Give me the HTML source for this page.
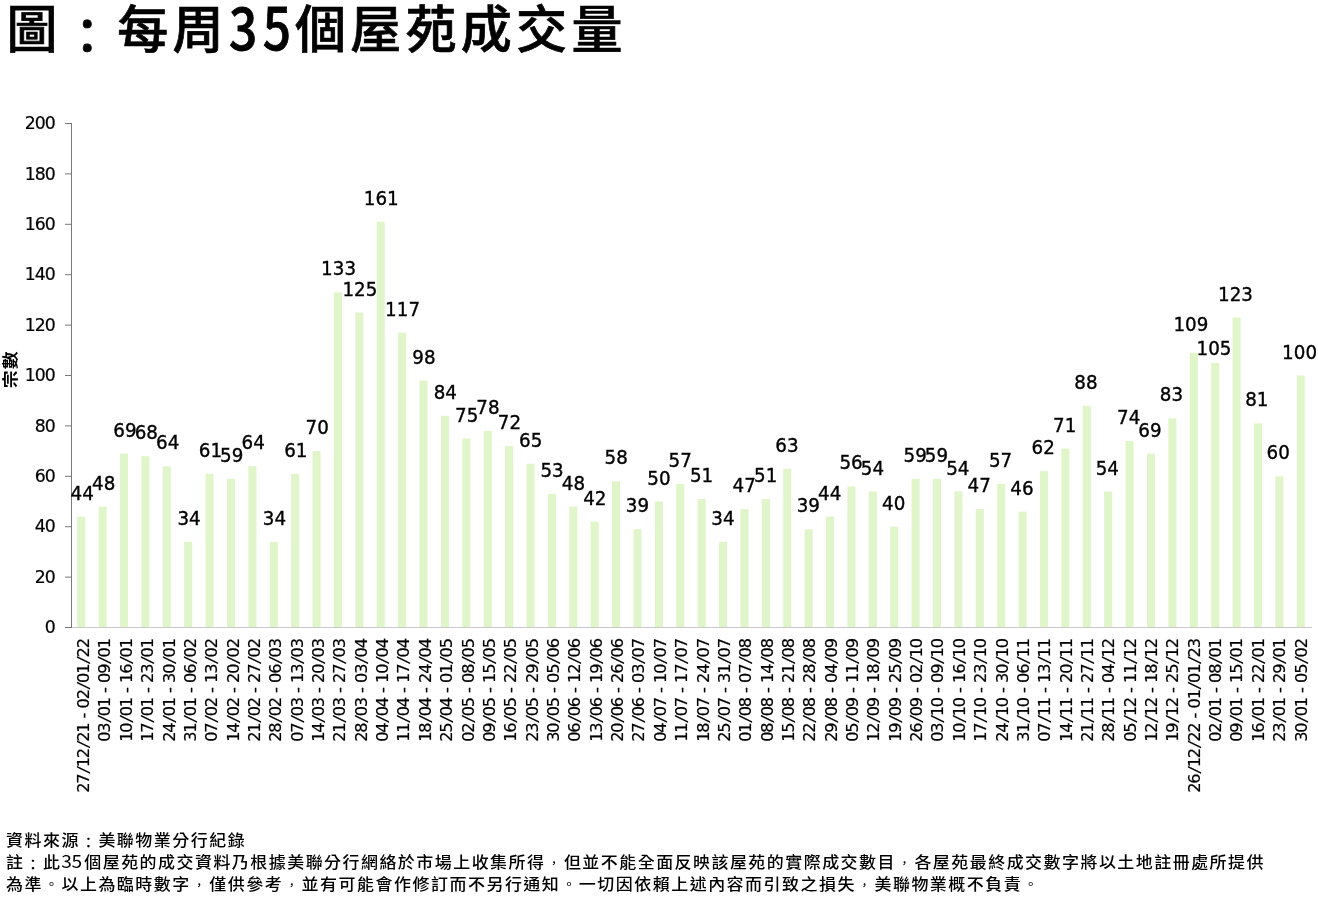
<!DOCTYPE html>
<html lang="zh-Hant">
<head>
<meta charset="utf-8">
<title>圖：每周35個屋苑成交量</title>
<style>
html,body{margin:0;padding:0;background:#fff;}
body{width:1318px;height:897px;overflow:hidden;position:relative;font-family:"Liberation Sans","Noto Sans CJK TC",sans-serif;}
svg{position:absolute;left:0;top:0;display:block;}
text{fill:#000;white-space:pre;}
.title{font-family:"Liberation Sans","Noto Sans CJK TC",sans-serif;font-weight:500;font-size:51px;letter-spacing:4.3px;stroke:#000;stroke-width:0.7px;}
.title .n{font-family:"Noto Sans CJK TC","Liberation Sans",sans-serif;font-size:57.7px;letter-spacing:6.34px;font-weight:500;stroke:#000;stroke-width:0.8px;}
.foot{font-family:"Liberation Sans","Noto Sans CJK TC",sans-serif;font-weight:500;font-size:16.5px;letter-spacing:1.43px;}
.foot .n{font-family:"Noto Sans CJK TC","Liberation Sans",sans-serif;font-size:18.6px;letter-spacing:-0.5px;font-weight:400;}
.foot .pc{font-size:11px;letter-spacing:4.18px;baseline-shift:1.2px;}
.foot .pp{font-size:13px;letter-spacing:3.18px;baseline-shift:1.3px;}
.foot .pk{font-size:15px;letter-spacing:2.18px;baseline-shift:-1.6px;}
.title .k{font-size:49px;letter-spacing:5.3px;baseline-shift:-5.5px;}
.ytitle{font-family:"Liberation Sans","Noto Sans CJK TC",sans-serif;font-size:16.3px;font-weight:700;letter-spacing:1px;text-anchor:middle;}
.yt{font-family:"DejaVu Sans","Liberation Sans",sans-serif;font-size:17.3px;font-weight:400;letter-spacing:-1px;text-anchor:end;}
.xl{font-family:"DejaVu Sans","Liberation Sans",sans-serif;font-size:16.2px;font-weight:400;}
.xl .s{font-family:"DejaVu Sans Mono","Liberation Mono",monospace;font-size:16px;}
.dl{font-family:"DejaVu Sans","Liberation Sans",sans-serif;font-size:18.3px;font-weight:400;letter-spacing:0.05px;text-anchor:middle;}
.yt,.xl{stroke:#000;stroke-width:0.2px;}
.dl{stroke:#000;stroke-width:0.35px;}
.bar{fill:#e0f6ca;}
</style>
</head>
<body>
<svg width="1318" height="897" viewBox="0 0 1318 897">
<rect x="0" y="0" width="1318" height="897" fill="#ffffff"/>
<text class="title" x="6.55" y="47.5">圖<tspan class="k" dx="1">：</tspan>每周<tspan class="n" dx="1.2" dy="2.1" textLength="67.4" lengthAdjust="spacingAndGlyphs">35</tspan><tspan dx="-1.5" dy="-2.1">個屋苑成交量</tspan></text>
<g class="bars">
<rect class="bar" x="77.14" y="516.62" width="8.1" height="110.38"/>
<rect class="bar" x="98.54" y="506.54" width="8.1" height="120.46"/>
<rect class="bar" x="119.93" y="453.62" width="8.1" height="173.38"/>
<rect class="bar" x="141.33" y="456.14" width="8.1" height="170.86"/>
<rect class="bar" x="162.72" y="466.22" width="8.1" height="160.78"/>
<rect class="bar" x="184.12" y="541.82" width="8.1" height="85.18"/>
<rect class="bar" x="205.52" y="473.78" width="8.1" height="153.22"/>
<rect class="bar" x="226.91" y="478.82" width="8.1" height="148.18"/>
<rect class="bar" x="248.31" y="466.22" width="8.1" height="160.78"/>
<rect class="bar" x="269.7" y="541.82" width="8.1" height="85.18"/>
<rect class="bar" x="291.1" y="473.78" width="8.1" height="153.22"/>
<rect class="bar" x="312.5" y="451.1" width="8.1" height="175.9"/>
<rect class="bar" x="333.89" y="292.34" width="8.1" height="334.66"/>
<rect class="bar" x="355.29" y="312.5" width="8.1" height="314.5"/>
<rect class="bar" x="376.68" y="221.78" width="8.1" height="405.22"/>
<rect class="bar" x="398.08" y="332.66" width="8.1" height="294.34"/>
<rect class="bar" x="419.48" y="380.54" width="8.1" height="246.46"/>
<rect class="bar" x="440.87" y="415.82" width="8.1" height="211.18"/>
<rect class="bar" x="462.27" y="438.5" width="8.1" height="188.5"/>
<rect class="bar" x="483.66" y="430.94" width="8.1" height="196.06"/>
<rect class="bar" x="505.06" y="446.06" width="8.1" height="180.94"/>
<rect class="bar" x="526.46" y="463.7" width="8.1" height="163.3"/>
<rect class="bar" x="547.85" y="493.94" width="8.1" height="133.06"/>
<rect class="bar" x="569.25" y="506.54" width="8.1" height="120.46"/>
<rect class="bar" x="590.64" y="521.66" width="8.1" height="105.34"/>
<rect class="bar" x="612.04" y="481.34" width="8.1" height="145.66"/>
<rect class="bar" x="633.44" y="529.22" width="8.1" height="97.78"/>
<rect class="bar" x="654.83" y="501.5" width="8.1" height="125.5"/>
<rect class="bar" x="676.23" y="483.86" width="8.1" height="143.14"/>
<rect class="bar" x="697.62" y="498.98" width="8.1" height="128.02"/>
<rect class="bar" x="719.02" y="541.82" width="8.1" height="85.18"/>
<rect class="bar" x="740.42" y="509.06" width="8.1" height="117.94"/>
<rect class="bar" x="761.81" y="498.98" width="8.1" height="128.02"/>
<rect class="bar" x="783.21" y="468.74" width="8.1" height="158.26"/>
<rect class="bar" x="804.6" y="529.22" width="8.1" height="97.78"/>
<rect class="bar" x="826" y="516.62" width="8.1" height="110.38"/>
<rect class="bar" x="847.4" y="486.38" width="8.1" height="140.62"/>
<rect class="bar" x="868.79" y="491.42" width="8.1" height="135.58"/>
<rect class="bar" x="890.19" y="526.7" width="8.1" height="100.3"/>
<rect class="bar" x="911.58" y="478.82" width="8.1" height="148.18"/>
<rect class="bar" x="932.98" y="478.82" width="8.1" height="148.18"/>
<rect class="bar" x="954.38" y="491.42" width="8.1" height="135.58"/>
<rect class="bar" x="975.77" y="509.06" width="8.1" height="117.94"/>
<rect class="bar" x="997.17" y="483.86" width="8.1" height="143.14"/>
<rect class="bar" x="1018.56" y="511.58" width="8.1" height="115.42"/>
<rect class="bar" x="1039.96" y="471.26" width="8.1" height="155.74"/>
<rect class="bar" x="1061.36" y="448.58" width="8.1" height="178.42"/>
<rect class="bar" x="1082.75" y="405.74" width="8.1" height="221.26"/>
<rect class="bar" x="1104.15" y="491.42" width="8.1" height="135.58"/>
<rect class="bar" x="1125.54" y="441.02" width="8.1" height="185.98"/>
<rect class="bar" x="1146.94" y="453.62" width="8.1" height="173.38"/>
<rect class="bar" x="1168.34" y="418.34" width="8.1" height="208.66"/>
<rect class="bar" x="1189.73" y="352.82" width="8.1" height="274.18"/>
<rect class="bar" x="1211.13" y="362.9" width="8.1" height="264.1"/>
<rect class="bar" x="1232.52" y="317.54" width="8.1" height="309.46"/>
<rect class="bar" x="1253.92" y="423.38" width="8.1" height="203.62"/>
<rect class="bar" x="1275.32" y="476.3" width="8.1" height="150.7"/>
<rect class="bar" x="1296.71" y="375.5" width="8.1" height="251.5"/>
</g>
<g class="axes">
<rect x="71" y="627" width="1241" height="1" fill="#c9c9c9"/>
<rect x="71" y="123" width="1" height="505" fill="#7a7a7a"/>
<rect x="65" y="627" width="6" height="1" fill="#7a7a7a"/>
<rect x="65" y="576.6" width="6" height="1" fill="#7a7a7a"/>
<rect x="65" y="526.2" width="6" height="1" fill="#7a7a7a"/>
<rect x="65" y="475.8" width="6" height="1" fill="#7a7a7a"/>
<rect x="65" y="425.4" width="6" height="1" fill="#7a7a7a"/>
<rect x="65" y="375" width="6" height="1" fill="#7a7a7a"/>
<rect x="65" y="324.6" width="6" height="1" fill="#7a7a7a"/>
<rect x="65" y="274.2" width="6" height="1" fill="#7a7a7a"/>
<rect x="65" y="223.8" width="6" height="1" fill="#7a7a7a"/>
<rect x="65" y="173.4" width="6" height="1" fill="#7a7a7a"/>
<rect x="65" y="123" width="6" height="1" fill="#7a7a7a"/>
</g>
<g class="yticks">
<text class="yt" x="54.8" y="129.1">200</text>
<text class="yt" x="54.8" y="179.5">180</text>
<text class="yt" x="54.8" y="229.9">160</text>
<text class="yt" x="54.8" y="280.3">140</text>
<text class="yt" x="54.8" y="330.7">120</text>
<text class="yt" x="54.8" y="381.1">100</text>
<text class="yt" x="54.8" y="431.5">80</text>
<text class="yt" x="54.8" y="481.9">60</text>
<text class="yt" x="54.8" y="532.3">40</text>
<text class="yt" x="54.8" y="582.7">20</text>
<text class="yt" x="54.8" y="633.1">0</text>
</g>
<g class="datalabels">
<text class="dl" transform="translate(82.3 499.72) scale(1 1.1)">44</text>
<text class="dl" transform="translate(103.66 489.64) scale(1 1.1)">48</text>
<text class="dl" transform="translate(125.01 436.72) scale(1 1.1)">69</text>
<text class="dl" transform="translate(146.37 439.24) scale(1 1.1)">68</text>
<text class="dl" transform="translate(167.72 449.32) scale(1 1.1)">64</text>
<text class="dl" transform="translate(189.07 524.92) scale(1 1.1)">34</text>
<text class="dl" transform="translate(210.43 456.88) scale(1 1.1)">61</text>
<text class="dl" transform="translate(231.79 461.92) scale(1 1.1)">59</text>
<text class="dl" transform="translate(253.14 449.32) scale(1 1.1)">64</text>
<text class="dl" transform="translate(274.5 524.92) scale(1 1.1)">34</text>
<text class="dl" transform="translate(295.85 456.88) scale(1 1.1)">61</text>
<text class="dl" transform="translate(317.2 434.2) scale(1 1.1)">70</text>
<text class="dl" transform="translate(338.56 275.44) scale(1 1.1)">133</text>
<text class="dl" transform="translate(359.92 295.6) scale(1 1.1)">125</text>
<text class="dl" transform="translate(381.27 204.88) scale(1 1.1)">161</text>
<text class="dl" transform="translate(402.62 315.76) scale(1 1.1)">117</text>
<text class="dl" transform="translate(423.98 363.64) scale(1 1.1)">98</text>
<text class="dl" transform="translate(445.34 398.92) scale(1 1.1)">84</text>
<text class="dl" transform="translate(466.69 421.6) scale(1 1.1)">75</text>
<text class="dl" transform="translate(488.05 414.04) scale(1 1.1)">78</text>
<text class="dl" transform="translate(509.4 429.16) scale(1 1.1)">72</text>
<text class="dl" transform="translate(530.75 446.8) scale(1 1.1)">65</text>
<text class="dl" transform="translate(552.11 477.04) scale(1 1.1)">53</text>
<text class="dl" transform="translate(573.47 489.64) scale(1 1.1)">48</text>
<text class="dl" transform="translate(594.82 504.76) scale(1 1.1)">42</text>
<text class="dl" transform="translate(616.17 464.44) scale(1 1.1)">58</text>
<text class="dl" transform="translate(637.53 512.32) scale(1 1.1)">39</text>
<text class="dl" transform="translate(658.88 484.6) scale(1 1.1)">50</text>
<text class="dl" transform="translate(680.24 466.96) scale(1 1.1)">57</text>
<text class="dl" transform="translate(701.59 482.08) scale(1 1.1)">51</text>
<text class="dl" transform="translate(722.95 524.92) scale(1 1.1)">34</text>
<text class="dl" transform="translate(744.3 492.16) scale(1 1.1)">47</text>
<text class="dl" transform="translate(765.66 482.08) scale(1 1.1)">51</text>
<text class="dl" transform="translate(787.01 451.84) scale(1 1.1)">63</text>
<text class="dl" transform="translate(808.37 512.32) scale(1 1.1)">39</text>
<text class="dl" transform="translate(829.73 499.72) scale(1 1.1)">44</text>
<text class="dl" transform="translate(851.08 469.48) scale(1 1.1)">56</text>
<text class="dl" transform="translate(872.43 474.52) scale(1 1.1)">54</text>
<text class="dl" transform="translate(893.79 509.8) scale(1 1.1)">40</text>
<text class="dl" transform="translate(915.14 461.92) scale(1 1.1)">59</text>
<text class="dl" transform="translate(936.5 461.92) scale(1 1.1)">59</text>
<text class="dl" transform="translate(957.86 474.52) scale(1 1.1)">54</text>
<text class="dl" transform="translate(979.21 492.16) scale(1 1.1)">47</text>
<text class="dl" transform="translate(1000.56 466.96) scale(1 1.1)">57</text>
<text class="dl" transform="translate(1021.92 494.68) scale(1 1.1)">46</text>
<text class="dl" transform="translate(1043.28 454.36) scale(1 1.1)">62</text>
<text class="dl" transform="translate(1064.63 431.68) scale(1 1.1)">71</text>
<text class="dl" transform="translate(1085.99 388.84) scale(1 1.1)">88</text>
<text class="dl" transform="translate(1107.34 474.52) scale(1 1.1)">54</text>
<text class="dl" transform="translate(1128.69 424.12) scale(1 1.1)">74</text>
<text class="dl" transform="translate(1150.05 436.72) scale(1 1.1)">69</text>
<text class="dl" transform="translate(1171.4 401.44) scale(1 1.1)">83</text>
<text class="dl" transform="translate(1190.96 330.92) scale(1 1.1)">109</text>
<text class="dl" transform="translate(1214.02 354.5) scale(1 1.1)">105</text>
<text class="dl" transform="translate(1235.47 300.64) scale(1 1.1)">123</text>
<text class="dl" transform="translate(1256.83 406.48) scale(1 1.1)">81</text>
<text class="dl" transform="translate(1278.18 459.4) scale(1 1.1)">60</text>
<text class="dl" transform="translate(1299.54 358.6) scale(1 1.1)">100</text>
</g>
<g class="xlabels">
<text class="xl" transform="translate(89.1 792.8) rotate(-90)" x="0 9.1 18.2 25.5 34.6 43.7 51 60.1 69.2 74.2 79.4 84.4 93.5 102.6 109.9 119 128.1 135.4 144.5">27<tspan class="s">/</tspan>12<tspan class="s">/</tspan>21 - 02<tspan class="s">/</tspan>01<tspan class="s">/</tspan>22</text>
<text class="xl" transform="translate(110.46 741.8) rotate(-90)" x="0 9.1 18.2 25.5 34.6 43.7 48.7 53.9 58.9 68 77.1 84.4 93.5">03<tspan class="s">/</tspan>01 - 09<tspan class="s">/</tspan>01</text>
<text class="xl" transform="translate(131.82 741.8) rotate(-90)" x="0 9.1 18.2 25.5 34.6 43.7 48.7 53.9 58.9 68 77.1 84.4 93.5">10<tspan class="s">/</tspan>01 - 16<tspan class="s">/</tspan>01</text>
<text class="xl" transform="translate(153.18 741.8) rotate(-90)" x="0 9.1 18.2 25.5 34.6 43.7 48.7 53.9 58.9 68 77.1 84.4 93.5">17<tspan class="s">/</tspan>01 - 23<tspan class="s">/</tspan>01</text>
<text class="xl" transform="translate(174.53 741.8) rotate(-90)" x="0 9.1 18.2 25.5 34.6 43.7 48.7 53.9 58.9 68 77.1 84.4 93.5">24<tspan class="s">/</tspan>01 - 30<tspan class="s">/</tspan>01</text>
<text class="xl" transform="translate(195.89 741.8) rotate(-90)" x="0 9.1 18.2 25.5 34.6 43.7 48.7 53.9 58.9 68 77.1 84.4 93.5">31<tspan class="s">/</tspan>01 - 06<tspan class="s">/</tspan>02</text>
<text class="xl" transform="translate(217.25 741.8) rotate(-90)" x="0 9.1 18.2 25.5 34.6 43.7 48.7 53.9 58.9 68 77.1 84.4 93.5">07<tspan class="s">/</tspan>02 - 13<tspan class="s">/</tspan>02</text>
<text class="xl" transform="translate(238.61 741.8) rotate(-90)" x="0 9.1 18.2 25.5 34.6 43.7 48.7 53.9 58.9 68 77.1 84.4 93.5">14<tspan class="s">/</tspan>02 - 20<tspan class="s">/</tspan>02</text>
<text class="xl" transform="translate(259.97 741.8) rotate(-90)" x="0 9.1 18.2 25.5 34.6 43.7 48.7 53.9 58.9 68 77.1 84.4 93.5">21<tspan class="s">/</tspan>02 - 27<tspan class="s">/</tspan>02</text>
<text class="xl" transform="translate(281.33 741.8) rotate(-90)" x="0 9.1 18.2 25.5 34.6 43.7 48.7 53.9 58.9 68 77.1 84.4 93.5">28<tspan class="s">/</tspan>02 - 06<tspan class="s">/</tspan>03</text>
<text class="xl" transform="translate(302.69 741.8) rotate(-90)" x="0 9.1 18.2 25.5 34.6 43.7 48.7 53.9 58.9 68 77.1 84.4 93.5">07<tspan class="s">/</tspan>03 - 13<tspan class="s">/</tspan>03</text>
<text class="xl" transform="translate(324.04 741.8) rotate(-90)" x="0 9.1 18.2 25.5 34.6 43.7 48.7 53.9 58.9 68 77.1 84.4 93.5">14<tspan class="s">/</tspan>03 - 20<tspan class="s">/</tspan>03</text>
<text class="xl" transform="translate(345.4 741.8) rotate(-90)" x="0 9.1 18.2 25.5 34.6 43.7 48.7 53.9 58.9 68 77.1 84.4 93.5">21<tspan class="s">/</tspan>03 - 27<tspan class="s">/</tspan>03</text>
<text class="xl" transform="translate(366.76 741.8) rotate(-90)" x="0 9.1 18.2 25.5 34.6 43.7 48.7 53.9 58.9 68 77.1 84.4 93.5">28<tspan class="s">/</tspan>03 - 03<tspan class="s">/</tspan>04</text>
<text class="xl" transform="translate(388.12 741.8) rotate(-90)" x="0 9.1 18.2 25.5 34.6 43.7 48.7 53.9 58.9 68 77.1 84.4 93.5">04<tspan class="s">/</tspan>04 - 10<tspan class="s">/</tspan>04</text>
<text class="xl" transform="translate(409.48 741.8) rotate(-90)" x="0 9.1 18.2 25.5 34.6 43.7 48.7 53.9 58.9 68 77.1 84.4 93.5">11<tspan class="s">/</tspan>04 - 17<tspan class="s">/</tspan>04</text>
<text class="xl" transform="translate(430.84 741.8) rotate(-90)" x="0 9.1 18.2 25.5 34.6 43.7 48.7 53.9 58.9 68 77.1 84.4 93.5">18<tspan class="s">/</tspan>04 - 24<tspan class="s">/</tspan>04</text>
<text class="xl" transform="translate(452.19 741.8) rotate(-90)" x="0 9.1 18.2 25.5 34.6 43.7 48.7 53.9 58.9 68 77.1 84.4 93.5">25<tspan class="s">/</tspan>04 - 01<tspan class="s">/</tspan>05</text>
<text class="xl" transform="translate(473.55 741.8) rotate(-90)" x="0 9.1 18.2 25.5 34.6 43.7 48.7 53.9 58.9 68 77.1 84.4 93.5">02<tspan class="s">/</tspan>05 - 08<tspan class="s">/</tspan>05</text>
<text class="xl" transform="translate(494.91 741.8) rotate(-90)" x="0 9.1 18.2 25.5 34.6 43.7 48.7 53.9 58.9 68 77.1 84.4 93.5">09<tspan class="s">/</tspan>05 - 15<tspan class="s">/</tspan>05</text>
<text class="xl" transform="translate(516.27 741.8) rotate(-90)" x="0 9.1 18.2 25.5 34.6 43.7 48.7 53.9 58.9 68 77.1 84.4 93.5">16<tspan class="s">/</tspan>05 - 22<tspan class="s">/</tspan>05</text>
<text class="xl" transform="translate(537.63 741.8) rotate(-90)" x="0 9.1 18.2 25.5 34.6 43.7 48.7 53.9 58.9 68 77.1 84.4 93.5">23<tspan class="s">/</tspan>05 - 29<tspan class="s">/</tspan>05</text>
<text class="xl" transform="translate(558.99 741.8) rotate(-90)" x="0 9.1 18.2 25.5 34.6 43.7 48.7 53.9 58.9 68 77.1 84.4 93.5">30<tspan class="s">/</tspan>05 - 05<tspan class="s">/</tspan>06</text>
<text class="xl" transform="translate(580.35 741.8) rotate(-90)" x="0 9.1 18.2 25.5 34.6 43.7 48.7 53.9 58.9 68 77.1 84.4 93.5">06<tspan class="s">/</tspan>06 - 12<tspan class="s">/</tspan>06</text>
<text class="xl" transform="translate(601.7 741.8) rotate(-90)" x="0 9.1 18.2 25.5 34.6 43.7 48.7 53.9 58.9 68 77.1 84.4 93.5">13<tspan class="s">/</tspan>06 - 19<tspan class="s">/</tspan>06</text>
<text class="xl" transform="translate(623.06 741.8) rotate(-90)" x="0 9.1 18.2 25.5 34.6 43.7 48.7 53.9 58.9 68 77.1 84.4 93.5">20<tspan class="s">/</tspan>06 - 26<tspan class="s">/</tspan>06</text>
<text class="xl" transform="translate(644.42 741.8) rotate(-90)" x="0 9.1 18.2 25.5 34.6 43.7 48.7 53.9 58.9 68 77.1 84.4 93.5">27<tspan class="s">/</tspan>06 - 03<tspan class="s">/</tspan>07</text>
<text class="xl" transform="translate(665.78 741.8) rotate(-90)" x="0 9.1 18.2 25.5 34.6 43.7 48.7 53.9 58.9 68 77.1 84.4 93.5">04<tspan class="s">/</tspan>07 - 10<tspan class="s">/</tspan>07</text>
<text class="xl" transform="translate(687.14 741.8) rotate(-90)" x="0 9.1 18.2 25.5 34.6 43.7 48.7 53.9 58.9 68 77.1 84.4 93.5">11<tspan class="s">/</tspan>07 - 17<tspan class="s">/</tspan>07</text>
<text class="xl" transform="translate(708.5 741.8) rotate(-90)" x="0 9.1 18.2 25.5 34.6 43.7 48.7 53.9 58.9 68 77.1 84.4 93.5">18<tspan class="s">/</tspan>07 - 24<tspan class="s">/</tspan>07</text>
<text class="xl" transform="translate(729.86 741.8) rotate(-90)" x="0 9.1 18.2 25.5 34.6 43.7 48.7 53.9 58.9 68 77.1 84.4 93.5">25<tspan class="s">/</tspan>07 - 31<tspan class="s">/</tspan>07</text>
<text class="xl" transform="translate(751.21 741.8) rotate(-90)" x="0 9.1 18.2 25.5 34.6 43.7 48.7 53.9 58.9 68 77.1 84.4 93.5">01<tspan class="s">/</tspan>08 - 07<tspan class="s">/</tspan>08</text>
<text class="xl" transform="translate(772.57 741.8) rotate(-90)" x="0 9.1 18.2 25.5 34.6 43.7 48.7 53.9 58.9 68 77.1 84.4 93.5">08<tspan class="s">/</tspan>08 - 14<tspan class="s">/</tspan>08</text>
<text class="xl" transform="translate(793.93 741.8) rotate(-90)" x="0 9.1 18.2 25.5 34.6 43.7 48.7 53.9 58.9 68 77.1 84.4 93.5">15<tspan class="s">/</tspan>08 - 21<tspan class="s">/</tspan>08</text>
<text class="xl" transform="translate(815.29 741.8) rotate(-90)" x="0 9.1 18.2 25.5 34.6 43.7 48.7 53.9 58.9 68 77.1 84.4 93.5">22<tspan class="s">/</tspan>08 - 28<tspan class="s">/</tspan>08</text>
<text class="xl" transform="translate(836.65 741.8) rotate(-90)" x="0 9.1 18.2 25.5 34.6 43.7 48.7 53.9 58.9 68 77.1 84.4 93.5">29<tspan class="s">/</tspan>08 - 04<tspan class="s">/</tspan>09</text>
<text class="xl" transform="translate(858.01 741.8) rotate(-90)" x="0 9.1 18.2 25.5 34.6 43.7 48.7 53.9 58.9 68 77.1 84.4 93.5">05<tspan class="s">/</tspan>09 - 11<tspan class="s">/</tspan>09</text>
<text class="xl" transform="translate(879.36 741.8) rotate(-90)" x="0 9.1 18.2 25.5 34.6 43.7 48.7 53.9 58.9 68 77.1 84.4 93.5">12<tspan class="s">/</tspan>09 - 18<tspan class="s">/</tspan>09</text>
<text class="xl" transform="translate(900.72 741.8) rotate(-90)" x="0 9.1 18.2 25.5 34.6 43.7 48.7 53.9 58.9 68 77.1 84.4 93.5">19<tspan class="s">/</tspan>09 - 25<tspan class="s">/</tspan>09</text>
<text class="xl" transform="translate(922.08 741.8) rotate(-90)" x="0 9.1 18.2 25.5 34.6 43.7 48.7 53.9 58.9 68 77.1 84.4 93.5">26<tspan class="s">/</tspan>09 - 02<tspan class="s">/</tspan>10</text>
<text class="xl" transform="translate(943.44 741.8) rotate(-90)" x="0 9.1 18.2 25.5 34.6 43.7 48.7 53.9 58.9 68 77.1 84.4 93.5">03<tspan class="s">/</tspan>10 - 09<tspan class="s">/</tspan>10</text>
<text class="xl" transform="translate(964.8 741.8) rotate(-90)" x="0 9.1 18.2 25.5 34.6 43.7 48.7 53.9 58.9 68 77.1 84.4 93.5">10<tspan class="s">/</tspan>10 - 16<tspan class="s">/</tspan>10</text>
<text class="xl" transform="translate(986.16 741.8) rotate(-90)" x="0 9.1 18.2 25.5 34.6 43.7 48.7 53.9 58.9 68 77.1 84.4 93.5">17<tspan class="s">/</tspan>10 - 23<tspan class="s">/</tspan>10</text>
<text class="xl" transform="translate(1007.52 741.8) rotate(-90)" x="0 9.1 18.2 25.5 34.6 43.7 48.7 53.9 58.9 68 77.1 84.4 93.5">24<tspan class="s">/</tspan>10 - 30<tspan class="s">/</tspan>10</text>
<text class="xl" transform="translate(1028.87 741.8) rotate(-90)" x="0 9.1 18.2 25.5 34.6 43.7 48.7 53.9 58.9 68 77.1 84.4 93.5">31<tspan class="s">/</tspan>10 - 06<tspan class="s">/</tspan>11</text>
<text class="xl" transform="translate(1050.23 741.8) rotate(-90)" x="0 9.1 18.2 25.5 34.6 43.7 48.7 53.9 58.9 68 77.1 84.4 93.5">07<tspan class="s">/</tspan>11 - 13<tspan class="s">/</tspan>11</text>
<text class="xl" transform="translate(1071.59 741.8) rotate(-90)" x="0 9.1 18.2 25.5 34.6 43.7 48.7 53.9 58.9 68 77.1 84.4 93.5">14<tspan class="s">/</tspan>11 - 20<tspan class="s">/</tspan>11</text>
<text class="xl" transform="translate(1092.95 741.8) rotate(-90)" x="0 9.1 18.2 25.5 34.6 43.7 48.7 53.9 58.9 68 77.1 84.4 93.5">21<tspan class="s">/</tspan>11 - 27<tspan class="s">/</tspan>11</text>
<text class="xl" transform="translate(1114.31 741.8) rotate(-90)" x="0 9.1 18.2 25.5 34.6 43.7 48.7 53.9 58.9 68 77.1 84.4 93.5">28<tspan class="s">/</tspan>11 - 04<tspan class="s">/</tspan>12</text>
<text class="xl" transform="translate(1135.67 741.8) rotate(-90)" x="0 9.1 18.2 25.5 34.6 43.7 48.7 53.9 58.9 68 77.1 84.4 93.5">05<tspan class="s">/</tspan>12 - 11<tspan class="s">/</tspan>12</text>
<text class="xl" transform="translate(1157.02 741.8) rotate(-90)" x="0 9.1 18.2 25.5 34.6 43.7 48.7 53.9 58.9 68 77.1 84.4 93.5">12<tspan class="s">/</tspan>12 - 18<tspan class="s">/</tspan>12</text>
<text class="xl" transform="translate(1178.38 741.8) rotate(-90)" x="0 9.1 18.2 25.5 34.6 43.7 48.7 53.9 58.9 68 77.1 84.4 93.5">19<tspan class="s">/</tspan>12 - 25<tspan class="s">/</tspan>12</text>
<text class="xl" transform="translate(1199.74 792.8) rotate(-90)" x="0 9.1 18.2 25.5 34.6 43.7 51 60.1 69.2 74.2 79.4 84.4 93.5 102.6 109.9 119 128.1 135.4 144.5">26<tspan class="s">/</tspan>12<tspan class="s">/</tspan>22 - 01<tspan class="s">/</tspan>01<tspan class="s">/</tspan>23</text>
<text class="xl" transform="translate(1221.1 741.8) rotate(-90)" x="0 9.1 18.2 25.5 34.6 43.7 48.7 53.9 58.9 68 77.1 84.4 93.5">02<tspan class="s">/</tspan>01 - 08<tspan class="s">/</tspan>01</text>
<text class="xl" transform="translate(1242.46 741.8) rotate(-90)" x="0 9.1 18.2 25.5 34.6 43.7 48.7 53.9 58.9 68 77.1 84.4 93.5">09<tspan class="s">/</tspan>01 - 15<tspan class="s">/</tspan>01</text>
<text class="xl" transform="translate(1263.82 741.8) rotate(-90)" x="0 9.1 18.2 25.5 34.6 43.7 48.7 53.9 58.9 68 77.1 84.4 93.5">16<tspan class="s">/</tspan>01 - 22<tspan class="s">/</tspan>01</text>
<text class="xl" transform="translate(1285.18 741.8) rotate(-90)" x="0 9.1 18.2 25.5 34.6 43.7 48.7 53.9 58.9 68 77.1 84.4 93.5">23<tspan class="s">/</tspan>01 - 29<tspan class="s">/</tspan>01</text>
<text class="xl" transform="translate(1306.53 741.8) rotate(-90)" x="0 9.1 18.2 25.5 34.6 43.7 48.7 53.9 58.9 68 77.1 84.4 93.5">30<tspan class="s">/</tspan>01 - 05<tspan class="s">/</tspan>02</text>
</g>
<text class="ytitle" transform="translate(16 369.2) rotate(-90) scale(1.1 1)">宗數</text>
<text class="foot" style="letter-spacing:1.46px" transform="translate(6 846.3) scale(1.03 0.95)">資料來源<tspan class="pk" dx="0.75">：</tspan>美聯物業分行紀錄</text>
<text class="foot" transform="translate(6 867.9) scale(1.03 0.95)">註<tspan class="pk" dx="0.75">：</tspan>此<tspan class="n">35</tspan><tspan dx="2.6">個屋苑的成交資料乃根據美聯分行網絡於市場上收集所得<tspan class="pc" dx="2.75">，</tspan>但並不能全面反映該屋苑的實際成交數目<tspan class="pc" dx="2.75">，</tspan>各屋苑最終成交數字將以土地註冊處所提供</tspan></text>
<text class="foot" style="letter-spacing:1.46px" transform="translate(6 889.6) scale(1.03 0.95)">為準<tspan class="pp" dx="1.75">。</tspan>以上為臨時數字<tspan class="pc" dx="2.75">，</tspan>僅供參考<tspan class="pc" dx="2.75">，</tspan>並有可能會作修訂而不另行通知<tspan class="pp" dx="1.75">。</tspan>一切因依賴上述內容而引致之損失<tspan class="pc" dx="2.75">，</tspan>美聯物業概不負責<tspan class="pp" dx="1.75">。</tspan></text>
</svg>
</body>
</html>
